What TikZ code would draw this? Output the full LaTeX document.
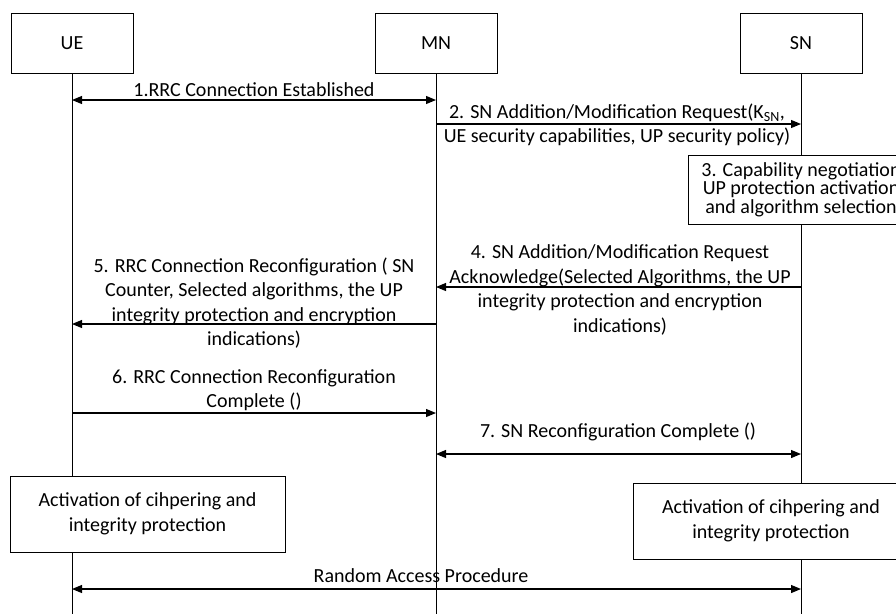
\documentclass[tikz,border=0pt]{standalone}
\usepackage{fontspec}
\setmainfont{Carlito}
\usetikzlibrary{arrows.meta,positioning}

\newcommand{\MsgFont}{\fontsize{20}{24.5}\selectfont}

\begin{document}
\begin{tikzpicture}[x=1pt,y=-1pt,
    head/.style={draw,line width=0.8pt,minimum width=122pt,minimum height=60pt,font=\MsgFont},
    actbox/.style={draw,fill=white,line width=0.8pt,align=center,inner sep=0pt,font=\MsgFont},
    lbl/.style={align=center,inner sep=0pt,font=\MsgFont},
    msg/.style={-{Triangle[length=10pt,width=8pt]},line width=1.1pt},
    both/.style={{Triangle[length=10pt,width=8pt]}-{Triangle[length=10pt,width=8pt]},line width=1.1pt}]
    \useasboundingbox (0,0) rectangle (896,614);
    \clip (0,0) rectangle (896,614);
    % entities and lifelines
    \node[head] (ue) at (72,43) {UE};
    \node[head] (mn) at (436,43) {MN};
    \node[head] (sn) at (801,43) {SN};
    \foreach \p in {ue,mn,sn}{
      \coordinate (\p-end) at (\p.south |- 0,614);
      \draw[line width=0.8pt] (\p.south) -- (\p-end);
    }
    % message rows
    \foreach \r/\y in {1/100,2/124,4/287,5/324,6/413,7/454,8/589}
      \foreach \p in {ue,mn,sn}
        \coordinate (\p\r) at (\p.south |- 0,\y);
    %
    \draw[both] (ue1) -- (mn1);
    \draw(254,90) node[lbl] (t1){1.RRC Connection Established};
    \draw[msg] (mn2) -- (sn2);
    \draw(617,125) node[lbl] (t2){2. SN Addition/Modification Request(K\textsubscript{SN},\\UE security capabilities, UP security policy)};
    \node[actbox,minimum width=226pt,minimum height=69pt,font=\fontsize{20}{18.5}\selectfont] (nego) at (801,189.5)
      {3. Capability negotiation\\UP protection activation\\and algorithm selection};
    \draw[msg] (sn4) -- (mn4);
    \draw(620,290) node[lbl] (t4){4. SN Addition/Modification Request\\Acknowledge(Selected Algorithms, the UP\\integrity protection and encryption\\indications)};
    \draw[msg] (mn5) -- (ue5);
    \draw(254,303) node[lbl] (t5){5. RRC Connection Reconfiguration ( SN\\Counter, Selected algorithms, the UP\\integrity protection and encryption\\indications)};
    \draw[msg] (ue6) -- (mn6);
    \draw(254,390) node[lbl] (t6){6. RRC Connection Reconfiguration\\Complete ()};
    \draw[both] (mn7) -- (sn7);
    \draw(618,432) node[lbl] (t7){7. SN Reconfiguration Complete ()};
    %
    \node[actbox,minimum width=275pt,minimum height=76pt] (ueact) at (147.5,514)
      {Activation of cihpering and\\integrity protection};
    \node[actbox,minimum width=276pt,minimum height=76pt] (snact) at (771,521)
      {Activation of cihpering and\\integrity protection};
    \draw[both] (ue8) -- (sn8);
    \draw(421,576) node[lbl] (ra){Random Access Procedure};
  \end{tikzpicture}
\end{document}
